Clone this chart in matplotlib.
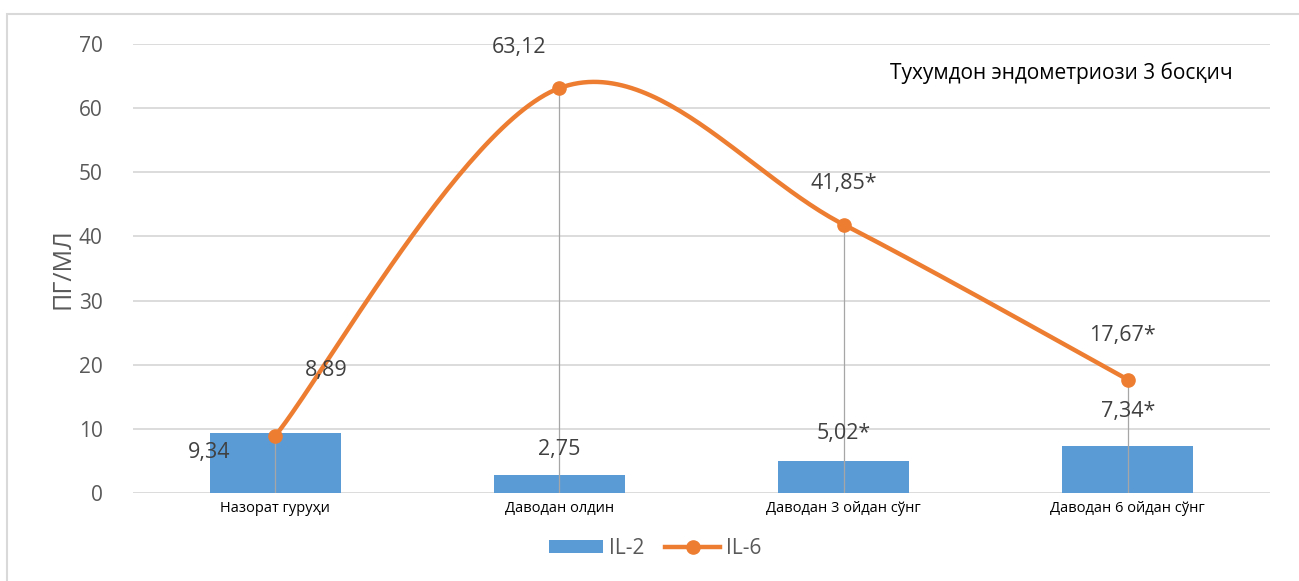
import numpy as np
import matplotlib
matplotlib.use("Agg")
import matplotlib.pyplot as plt
from matplotlib.patches import Rectangle, Patch
from matplotlib.lines import Line2D

plt.rcParams['font.family'] = ['Open Sans', 'DejaVu Sans']

# ---------------- data ----------------
categories = ["Назорат гуруҳи", "Даводан олдин", "Даводан 3 ойдан сўнг", "Даводан 6 ойдан сўнг"]
il2 = [9.34, 2.75, 5.02, 7.34]
il6 = [8.89, 63.12, 41.85, 17.67]
il2_labels = ["9,34", "2,75", "5,02*", "7,34*"]
il6_labels = ["8,89", "63,12", "41,85*", "17,67*"]
yticks = [0, 10, 20, 30, 40, 50, 60, 70]
title_text = "Тухумдон эндометриози 3 босқич"
ylabel_text = "ПГ/МЛ"
series_names = ["IL-2", "IL-6"]

# ---------------- style ----------------
BLUE = "#5B9BD5"
ORANGE = "#ED7D31"
GRID = "#D9D9D9"
TXT = "#595959"

W, H = 1299, 581
fig = plt.figure(figsize=(W / 100, H / 100), dpi=100)
ax = fig.add_axes([133 / W, 1 - 493 / H, (1270 - 133) / W, (493 - 44) / H])

x = np.arange(len(categories))

# outer chart border (top & left visible)
fig.patches.append(Rectangle((7 / W, -0.1), 1.2, 1 - 14 / H + 0.1, transform=fig.transFigure,
                             fill=False, edgecolor="#D9D9D9", lw=1.5, zorder=0))

ax.set_xlim(-0.5, len(categories) - 0.5)
ax.set_ylim(0, 70)
ax.set_yticks(yticks)
ax.yaxis.grid(True, color=GRID, lw=1.3)
ax.set_axisbelow(True)
for s in ax.spines.values():
    s.set_visible(False)
ax.tick_params(axis='y', length=0, pad=22, labelsize=15, labelcolor=TXT)
ax.tick_params(axis='x', length=0, pad=6, labelsize=10.5, labelcolor="black")
ax.set_xticks(x)
ax.set_xticklabels(categories)
ax.set_ylabel(ylabel_text, fontsize=18, color=TXT, labelpad=2)

# bars
ax.bar(x, il2, width=0.46, color=BLUE, zorder=2)

# drop lines
ax.vlines(x, 0, il6, color="#A6A6A6", lw=0.9, zorder=3)


# smoothed line (Catmull-Rom, as in Excel "smoothed line")
def catmull_rom(px, py, n=60):
    P = np.column_stack([px, py]).astype(float)
    P = np.vstack([P[0], P, P[-1]])
    out = []
    for i in range(1, len(P) - 2):
        p0, p1, p2, p3 = P[i - 1], P[i], P[i + 1], P[i + 2]
        m1 = (p2 - p0) / 2
        m2 = (p3 - p1) / 2
        t = np.linspace(0, 1, n)[:, None]
        h00 = 2 * t**3 - 3 * t**2 + 1
        h10 = t**3 - 2 * t**2 + t
        h01 = -2 * t**3 + 3 * t**2
        h11 = t**3 - t**2
        out.append(h00 * p1 + h10 * m1 + h01 * p2 + h11 * m2)
    c = np.vstack(out)
    return c[:, 0], c[:, 1]


sx, sy = catmull_rom(x, il6)
ax.plot(sx, sy, color=ORANGE, lw=3.2, zorder=4, solid_capstyle='round')
ax.plot(x, il6, 'o', color=ORANGE, ms=9.5, zorder=5)

# data labels
il6_off = [(37, 47.5), (-29, 29.5), (0, 29.5), (-4, 32)]
il2_off = [(-47.5, -13.7), (0, 18.7), (0, 19.4), (0, 24.5)]
for xi, v, lab, off in zip(x, il6, il6_labels, il6_off):
    ax.annotate(lab, (xi, v), xytext=off, textcoords='offset points',
                ha='center', va='center', fontsize=15.5, color="#404040", zorder=6)
for xi, v, lab, off in zip(x, il2, il2_labels, il2_off):
    ax.annotate(lab, (xi, v), xytext=off, textcoords='offset points',
                ha='center', va='center', fontsize=15.5, color="#404040", zorder=6)

# title-like annotation
fig.text(1061 / W, 1 - 73 / H, title_text, ha='center', va='center', fontsize=15, color="black")

# legend
handles = [Patch(facecolor=BLUE, edgecolor='none'),
           Line2D([0], [0], color=ORANGE, lw=3.2, marker='o', ms=9.5)]
fig.legend(handles, series_names, loc='center', bbox_to_anchor=(655 / W, 1 - 548 / H),
           ncol=2, frameon=False, fontsize=15, labelcolor=TXT, handlelength=2.6,
           handletextpad=0.3, columnspacing=1.0, handleheight=0.6)

fig.savefig("out.png", dpi=100)
